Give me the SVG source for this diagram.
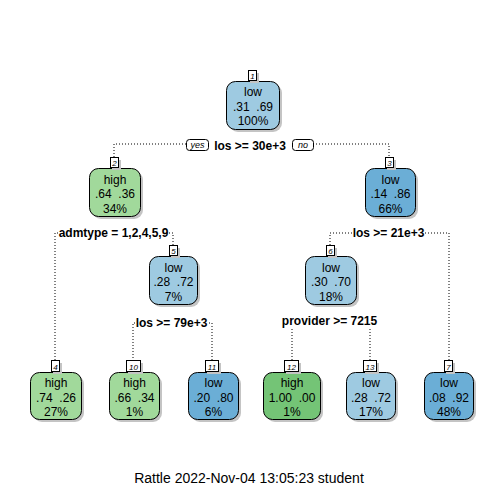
<svg xmlns="http://www.w3.org/2000/svg" width="504" height="504" viewBox="0 0 504 504">
<style>
.bg{fill:#fff}
.sh{fill:#c4c4c4}
.box{stroke:#000;stroke-width:1}
.lb{fill:#9ECAE1}
.db{fill:#6BAED6}
.lg{fill:#A1D99B}
.dg{fill:#74C476}
.nt{font-family:"Liberation Sans",Arial,sans-serif;font-size:12px;text-anchor:middle;fill:#000;white-space:pre}
.num{fill:#fff;stroke:#000;stroke-width:1}
.nn{font-family:"Liberation Sans",Arial,sans-serif;font-size:8px;font-style:italic;text-anchor:middle;fill:#000}
.sp{font-family:"Liberation Sans",Arial,sans-serif;font-size:12px;font-weight:bold;text-anchor:middle;fill:#000}
.yn{font-family:"Liberation Sans",Arial,sans-serif;font-size:9px;font-style:italic;text-anchor:middle;fill:#000}
.con{fill:none;stroke:#000;stroke-width:1;stroke-dasharray:1 2}
.ft{font-family:"Liberation Sans",Arial,sans-serif;font-size:14px;text-anchor:middle;fill:#000}
</style>
<rect class="bg" x="0" y="0" width="504" height="504"/>

<g id="connectors">
  <path class="con" d="M186,144 H114 V157"/>
  <path class="con" d="M313,144 H389 V157"/>
  <path class="con" d="M58,233 H55 V361"/>
  <path class="con" d="M169,233 H173 V245"/>
  <path class="con" d="M352,233 H330 V245"/>
  <path class="con" d="M425,233 H449 V361"/>
  <path class="con" d="M135,323 H133 V361"/>
  <path class="con" d="M209,323 H212 V361"/>
  <path class="con" d="M292,329 V361"/>
  <path class="con" d="M370,329 V361"/>
</g>

<g id="splits">
  <rect class="num" x="186.5" y="139.5" width="22" height="11" rx="3"/>
  <text class="yn" x="197.5" y="148">yes</text>
  <text class="sp" x="250" y="150">los &gt;= 30e+3</text>
  <rect class="num" x="292.5" y="139.5" width="21" height="11" rx="3"/>
  <text class="yn" x="303" y="148">no</text>
  <text class="sp" x="113.5" y="237">admtype = 1,2,4,5,9</text>
  <text class="sp" x="388.5" y="237">los &gt;= 21e+3</text>
  <text class="sp" x="171.5" y="327">los &gt;= 79e+3</text>
  <text class="sp" x="329.5" y="325">provider &gt;= 7215</text>
</g>

<g id="node1">
  <rect class="sh" x="229" y="84" width="53" height="48" rx="9"/>
  <rect class="box lb" x="226.5" y="81.5" width="53" height="48" rx="9"/>
  <rect class="sh" x="250" y="73" width="9" height="10"/>
  <rect class="num" x="248.5" y="70.5" width="8" height="10"/>
  <text class="nn" x="252.5" y="79">1</text>
  <text class="nt" x="253" y="96">low</text>
  <text class="nt" x="253" y="110.5" xml:space="preserve">.31  .69</text>
  <text class="nt" x="253" y="125">100%</text>
</g>

<g id="node2">
  <rect class="sh" x="92" y="171" width="51" height="48" rx="9"/>
  <rect class="box lg" x="89.5" y="168.5" width="51" height="48" rx="9"/>
  <rect class="sh" x="112" y="160" width="9" height="10"/>
  <rect class="num" x="110.5" y="157.5" width="8" height="10"/>
  <text class="nn" x="114.5" y="166">2</text>
  <text class="nt" x="115" y="183.5">high</text>
  <text class="nt" x="115" y="198" xml:space="preserve">.64  .36</text>
  <text class="nt" x="115" y="212.5">34%</text>
</g>

<g id="node3">
  <rect class="sh" x="368" y="171" width="50" height="48" rx="9"/>
  <rect class="box db" x="365.5" y="168.5" width="50" height="48" rx="9"/>
  <rect class="sh" x="387" y="160" width="9" height="10"/>
  <rect class="num" x="385.5" y="157.5" width="8" height="10"/>
  <text class="nn" x="389.5" y="166">3</text>
  <text class="nt" x="390.5" y="183.5">low</text>
  <text class="nt" x="390.5" y="198" xml:space="preserve">.14  .86</text>
  <text class="nt" x="390.5" y="212.5">66%</text>
</g>

<g id="node5">
  <rect class="sh" x="152" y="259" width="48" height="48" rx="9"/>
  <rect class="box lb" x="149.5" y="256.5" width="48" height="48" rx="9"/>
  <rect class="sh" x="171" y="248" width="9" height="10"/>
  <rect class="num" x="169.5" y="245.5" width="8" height="10"/>
  <text class="nn" x="173.5" y="254">5</text>
  <text class="nt" x="173.5" y="271.5">low</text>
  <text class="nt" x="173.5" y="286" xml:space="preserve">.28  .72</text>
  <text class="nt" x="173.5" y="300.5">7%</text>
</g>

<g id="node6">
  <rect class="sh" x="308" y="259" width="51" height="48" rx="9"/>
  <rect class="box lb" x="305.5" y="256.5" width="51" height="48" rx="9"/>
  <rect class="sh" x="328" y="248" width="9" height="10"/>
  <rect class="num" x="326.5" y="245.5" width="8" height="10"/>
  <text class="nn" x="330.5" y="254">6</text>
  <text class="nt" x="331" y="271.5">low</text>
  <text class="nt" x="331" y="286" xml:space="preserve">.30  .70</text>
  <text class="nt" x="331" y="300.5">18%</text>
</g>

<g id="node4">
  <rect class="sh" x="33" y="375" width="51" height="47" rx="9"/>
  <rect class="box lg" x="30.5" y="372.5" width="51" height="47" rx="9"/>
  <rect class="sh" x="53" y="363" width="9" height="11"/>
  <rect class="num" x="51.5" y="360.5" width="8" height="11"/>
  <text class="nn" x="55.5" y="369.5">4</text>
  <text class="nt" x="56" y="387">high</text>
  <text class="nt" x="56" y="401.5" xml:space="preserve">.74  .26</text>
  <text class="nt" x="56" y="416">27%</text>
</g>

<g id="node10">
  <rect class="sh" x="112" y="375" width="50" height="47" rx="9"/>
  <rect class="box lg" x="109.5" y="372.5" width="50" height="47" rx="9"/>
  <rect class="sh" x="128" y="363" width="15" height="11"/>
  <rect class="num" x="126.5" y="360.5" width="14" height="11"/>
  <text class="nn" x="133.5" y="369.5">10</text>
  <text class="nt" x="134.5" y="387">high</text>
  <text class="nt" x="134.5" y="401.5" xml:space="preserve">.66  .34</text>
  <text class="nt" x="134.5" y="416">1%</text>
</g>

<g id="node11">
  <rect class="sh" x="191" y="375" width="50" height="47" rx="9"/>
  <rect class="box db" x="188.5" y="372.5" width="50" height="47" rx="9"/>
  <rect class="sh" x="207" y="363" width="14" height="11"/>
  <rect class="num" x="205.5" y="360.5" width="13" height="11"/>
  <text class="nn" x="212" y="369.5">11</text>
  <text class="nt" x="213.5" y="387">low</text>
  <text class="nt" x="213.5" y="401.5" xml:space="preserve">.20  .80</text>
  <text class="nt" x="213.5" y="416">6%</text>
</g>

<g id="node12">
  <rect class="sh" x="266" y="375" width="57" height="47" rx="9"/>
  <rect class="box dg" x="263.5" y="372.5" width="57" height="47" rx="9"/>
  <rect class="sh" x="286" y="363" width="15" height="11"/>
  <rect class="num" x="284.5" y="360.5" width="14" height="11"/>
  <text class="nn" x="291.5" y="369.5">12</text>
  <text class="nt" x="292" y="387">high</text>
  <text class="nt" x="292" y="401.5" xml:space="preserve">1.00  .00</text>
  <text class="nt" x="292" y="416">1%</text>
</g>

<g id="node13">
  <rect class="sh" x="349" y="375" width="49" height="47" rx="9"/>
  <rect class="box lb" x="346.5" y="372.5" width="49" height="47" rx="9"/>
  <rect class="sh" x="365" y="363" width="14" height="11"/>
  <rect class="num" x="363.5" y="360.5" width="13" height="11"/>
  <text class="nn" x="370" y="369.5">13</text>
  <text class="nt" x="371" y="387">low</text>
  <text class="nt" x="371" y="401.5" xml:space="preserve">.28  .72</text>
  <text class="nt" x="371" y="416">17%</text>
</g>

<g id="node7">
  <rect class="sh" x="427" y="375" width="49" height="47" rx="9"/>
  <rect class="box db" x="424.5" y="372.5" width="49" height="47" rx="9"/>
  <rect class="sh" x="446" y="363" width="9" height="11"/>
  <rect class="num" x="444.5" y="360.5" width="8" height="11"/>
  <text class="nn" x="448.5" y="369.5">7</text>
  <text class="nt" x="449" y="387">low</text>
  <text class="nt" x="449" y="401.5" xml:space="preserve">.08  .92</text>
  <text class="nt" x="449" y="416">48%</text>
</g>

<text class="ft" x="249" y="483">Rattle 2022-Nov-04 13:05:23 student</text>
</svg>
